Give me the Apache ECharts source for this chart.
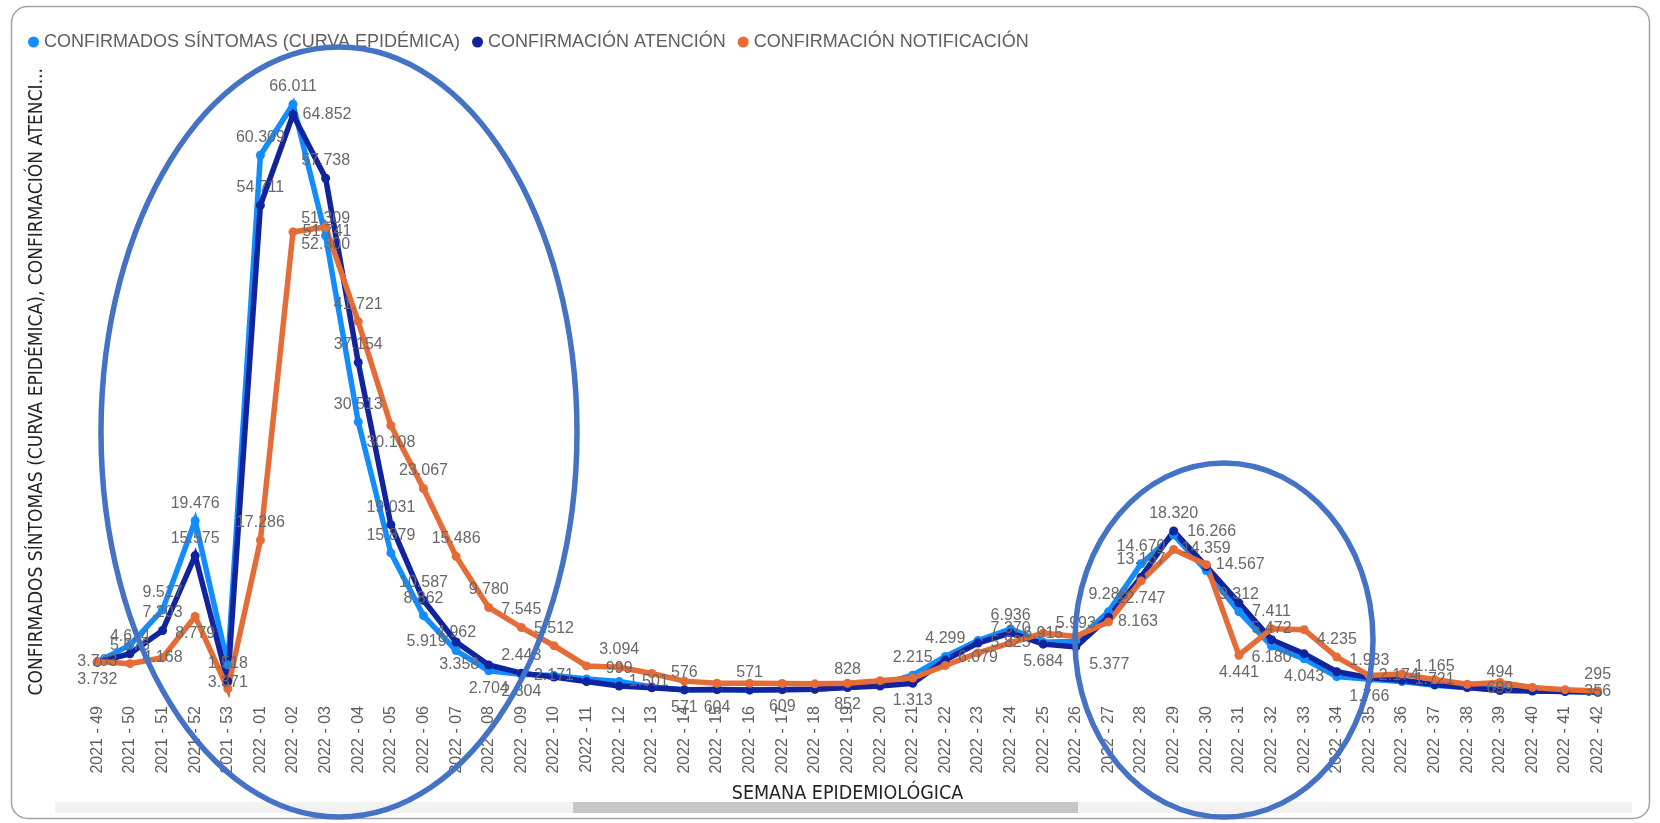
<!DOCTYPE html>
<html>
<head>
<meta charset="utf-8">
<script src="https://cdn.jsdelivr.net/npm/echarts@6/dist/echarts.min.js"></script>
<style>
  html, body { margin: 0; padding: 0; background: #ffffff; }
  #chart { width: 1660px; height: 823px; }
</style>
</head>
<body>
<div id="chart"></div>
<script>
// Semanas epidemiológicas
const weeks = [
  '2021 - 49', '2021 - 50', '2021 - 51', '2021 - 52', '2021 - 53',
  '2022 - 01', '2022 - 02', '2022 - 03', '2022 - 04', '2022 - 05', '2022 - 06', '2022 - 07',
  '2022 - 08', '2022 - 09', '2022 - 10', '2022 - 11', '2022 - 12', '2022 - 13', '2022 - 14',
  '2022 - 15', '2022 - 16', '2022 - 17', '2022 - 18', '2022 - 19', '2022 - 20', '2022 - 21',
  '2022 - 22', '2022 - 23', '2022 - 24', '2022 - 25', '2022 - 26', '2022 - 27', '2022 - 28',
  '2022 - 29', '2022 - 30', '2022 - 31', '2022 - 32', '2022 - 33', '2022 - 34', '2022 - 35',
  '2022 - 36', '2022 - 37', '2022 - 38', '2022 - 39', '2022 - 40', '2022 - 41', '2022 - 42'
];

const seriesNames = [
  'CONFIRMADOS SÍNTOMAS (CURVA EPIDÉMICA)',
  'CONFIRMACIÓN ATENCIÓN',
  'CONFIRMACIÓN NOTIFICACIÓN'
];

// Casos por semana
const sintomas = [
  3703, 5576, 9517, 19476, 3371,
  60309, 66011, 51309, 30513, 15879, 8862, 4962,
  2704, 2304, 2171, 1800, 1501, 900, 571,
  604, 560, 609, 640, 852, 1150, 2215,
  4299, 6079, 7370, 5900, 5993, 9288, 14670,
  17900, 13900, 9312, 5472, 4043, 2050, 1766,
  1500, 1100, 800, 699, 480, 400, 356
];
const atencion = [
  3650, 4614, 7203, 15575, 1518,
  54711, 64852, 57738, 37154, 19031, 10587, 5919,
  3358, 2443, 2000, 1500, 999, 800, 576,
  620, 571, 600, 650, 828, 1000, 1313,
  3900, 5800, 6936, 5684, 5377, 8700, 13167,
  18320, 14359, 10300, 6180, 4600, 2600, 1933,
  1650, 1165, 850, 494, 450, 380, 295
];
const notificacion = [
  3732, 3500, 4168, 8779, 700,
  17286, 51741, 52300, 41721, 30108, 23067, 15486,
  9780, 7545, 5512, 3250, 3094, 2400, 1550,
  1300, 1300, 1280, 1250, 1300, 1600, 1900,
  3300, 4700, 5825, 6915, 6550, 8163, 12747,
  16266, 14567, 4441, 7411, 7300, 4235, 2174,
  2350, 1721, 1200, 1400, 850, 600, 450
];

// Which points carry a value label and where it sits
// (t top, b bottom, l left, r right, u up-right, d down-right, c centred, '' none)
const sintomasLabelPos = [
  'c', 'c', 't', 't', 'b',
  't', 't', 't', 't', 't', 't', 't',
  'b', 'b', 'c', '', 'r', '', 'b',
  'b', '', 'b', '', 'b', '', 't',
  't', 'b', 'c', '', 't', 't', 't',
  '', '', 't', 't', 'b', '', 'b',
  '', '', '', 'c', '', '', 'c'
];
const atencionLabelPos = [
  '', 't', 't', 't', 't',
  't', 'r', 't', 't', 't', 't', 'l',
  'l', 't', '', '', 't', '', 't',
  '', 't', '', '', 't', '', 'b',
  '', '', 't', 'b', 'd', '', 't',
  't', 't', '', 'b', '', '', 't',
  '', 't', '', 't', '', '', 't'
];
const notificacionLabelPos = [
  'b', '', 'c', 'b', '',
  't', 'r', 'b', 't', 'b', 't', 't',
  't', 't', 't', '', 't', '', '',
  '', '', '', '', '', '', '',
  '', '', 'c', 'c', '', 'r', 'b',
  'u', 'r', 'b', 't', '', 't', 'r',
  '', 'c', '', '', '', '', ''
];

const seriesColors = ['#118DFF', '#12239E', '#E66C37'];

const labelPlacement = {
  t: { position: 'top' },
  b: { position: 'bottom' },
  l: { position: 'left' },
  r: { position: 'right' },
  c: { position: 'inside' },
  u: { position: 'right', offset: [4, -18] },
  d: { position: 'right', offset: [4, 18] }
};

// Spanish-style thousands separator: 66011 -> 66.011
function fmt(v) {
  return String(Math.round(v)).replace(/\B(?=(\d{3})+(?!\d))/g, '.');
}

function buildData(values, positions) {
  return values.map(function (v, i) {
    const p = positions[i];
    if (!p) return { value: v, label: { show: false } };
    return { value: v, label: Object.assign({ show: true }, labelPlacement[p]) };
  });
}

function lineSeries(name, values, positions, color) {
  return {
    name: name,
    type: 'line',
    data: buildData(values, positions),
    symbol: 'circle',
    symbolSize: 9,
    showAllSymbol: true,
    color: color,
    lineStyle: { width: 5.5, color: color, join: 'miter', miterLimit: 10 },
    itemStyle: { color: color },
    label: {
      show: false,
      formatter: function (p) { return fmt(p.value); },
      fontSize: 16,
      color: '#686868',
      fontFamily: 'Liberation Sans, Arial, sans-serif',
      distance: 5
    },
    emphasis: { disabled: true }
  };
}

const titleFont = "'DejaVu Sans Condensed', 'Liberation Sans Narrow', 'Liberation Sans', sans-serif";

const chart = echarts.init(document.getElementById('chart'), null, { renderer: 'canvas' });

chart.setOption({
  animation: false,
  backgroundColor: '#ffffff',
  legend: {
    left: 23,
    top: 28,
    icon: 'circle',
    itemWidth: 11,
    itemHeight: 11,
    itemGap: 12,
    textStyle: { fontSize: 18, color: '#605E5C', fontFamily: 'Liberation Sans, Arial, sans-serif' },
    data: seriesNames
  },
  grid: { left: 81, right: 46, top: 68.5, bottom: 128 },
  xAxis: {
    type: 'category',
    data: weeks,
    boundaryGap: true,
    name: 'SEMANA EPIDEMIOLÓGICA',
    nameLocation: 'middle',
    nameGap: 89,
    nameTextStyle: { fontSize: 19.5, color: '#252423', fontFamily: titleFont },
    axisLine: { show: false },
    axisTick: { show: false },
    axisLabel: {
      interval: 0,
      rotate: 90,
      margin: 11,
      fontSize: 16,
      color: '#605E5C',
      fontFamily: 'Liberation Sans, Arial, sans-serif'
    }
  },
  yAxis: {
    type: 'value',
    min: 0,
    max: 70000,
    name: 'CONFIRMADOS SÍNTOMAS (CURVA EPIDÉMICA), CONFIRMACIÓN ATENCI...',
    nameLocation: 'middle',
    nameRotate: 90,
    nameGap: 34,
    nameTextStyle: { fontSize: 19, color: '#252423', fontFamily: titleFont },
    axisLine: { show: false },
    axisTick: { show: false },
    axisLabel: { show: false },
    splitLine: { show: false }
  },
  series: [
    lineSeries(seriesNames[0], sintomas, sintomasLabelPos, seriesColors[0]),
    lineSeries(seriesNames[1], atencion, atencionLabelPos, seriesColors[1]),
    lineSeries(seriesNames[2], notificacion, notificacionLabelPos, seriesColors[2])
  ],
  graphic: [
    // card frame
    {
      type: 'rect', z: 0, silent: true,
      shape: { x: 11.5, y: 6.5, width: 1638, height: 812, r: 16 },
      style: { fill: 'none', stroke: '#a3a3a3', lineWidth: 1.5 }
    },
    // scroll bar track and thumb
    {
      type: 'rect', z: 1, silent: true,
      shape: { x: 55, y: 802, width: 1577, height: 11 },
      style: { fill: '#f2f2f2' }
    },
    {
      type: 'rect', z: 2, silent: true,
      shape: { x: 573, y: 802, width: 505, height: 11 },
      style: { fill: '#c6c6c6' }
    },
    // highlighted waves
    {
      type: 'ellipse', z: 100, silent: true,
      shape: { cx: 339, cy: 432, rx: 238, ry: 385 },
      style: { fill: 'none', stroke: '#4472C4', lineWidth: 5.5 }
    },
    {
      type: 'ellipse', z: 100, silent: true,
      shape: { cx: 1224, cy: 640, rx: 149, ry: 177 },
      style: { fill: 'none', stroke: '#4472C4', lineWidth: 5.5 }
    }
  ]
});
</script>
</body>
</html>
